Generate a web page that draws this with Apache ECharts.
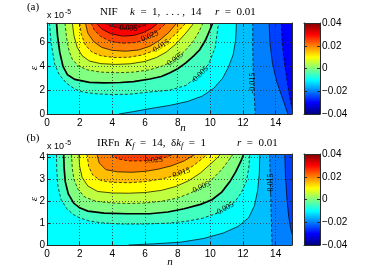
<!DOCTYPE html>
<html><head><meta charset="utf-8">
<script src="https://cdn.jsdelivr.net/npm/echarts@6/dist/echarts.min.js"></script>
<style>html,body{margin:0;padding:0;background:#fff}#c{width:368px;height:276px}</style>
</head><body><div id="c"></div>
<script>
// ---------------- data (n, eps in units of 1e-5) ----------------
const N_MAX = 15;
const EPS_MAX_A = 7.65;
const EPS_MAX_B = 4.165;
const xTickStep = 2;
const yTickStepA = 2;
const yTickStepB = 1;
const cbRange = [-0.04, 0.04];
const cbTickStep = 0.02;

// Panel (a) contour lines, level -> points [n, eps]
const contA_m025 = [[14.35,7.65],[14.4,6.0],[14.55,4.2],[14.72,2.6],[14.88,1.3],[15,0.5]];
const contA_m020 = [[13.6,7.65],[13.65,6.0],[13.8,4.3],[14.05,2.8],[14.4,1.4],[14.75,0]];
const contA_m015 = [[12.6,7.65],[12.6,5.5],[12.63,3.5],[12.68,1.8],[12.75,0]];
const contA_m010 = [[11.6,7.65],[11.55,6.2],[11.4,5.0],[11.1,3.9],[10.75,3.0],[10.2,2.15],[9.5,1.5],[8.6,1.05],[7.5,0.72],[6.3,0.45],[5.3,0.2],[4.4,0]];
const contA_m005 = [[0.15,7.65],[0.25,6.0],[0.47,4.2],[0.75,3.3],[1.19,2.6],[1.7,2.1],[2.2,1.84],[3.0,1.7],[4.0,1.64],[5.0,1.66],[6.3,1.85],[7.5,2.0],[8.5,2.4],[9.35,3.3],[9.9,4.2],[10.3,5.6],[10.5,7.65]];
const contA_000 = [[0.58,7.65],[0.65,6.5],[0.78,5.2],[0.98,4.0],[1.25,3.3],[1.7,2.91],[2.6,2.66],[3.5,2.62],[4.5,2.65],[5.3,2.72],[6.3,2.94],[7.0,3.15],[7.5,3.45],[8.0,3.8],[8.5,4.3],[9.0,4.9],[9.35,5.4],[9.7,6.2],[9.95,7.0],[10.15,7.65]];
const contA_p005 = [[1.1,7.65],[1.2,6.4],[1.35,5.3],[1.55,4.6],[1.9,4.05],[2.5,3.7],[3.3,3.52],[4.3,3.47],[5.3,3.52],[6.3,3.72],[7.0,4.0],[7.5,4.3],[7.9,4.65],[8.4,5.25],[8.9,6.0],[9.3,6.9],[9.55,7.65]];
const contA_p010 = [[1.55,7.65],[1.65,6.6],[1.85,5.6],[2.15,4.9],[2.6,4.45],[3.3,4.23],[4.2,4.17],[5.1,4.22],[6.0,4.42],[6.7,4.75],[7.3,5.2],[7.9,5.9],[8.5,6.8],[9.0,7.65]];
const contA_p015 = [[2.0,7.65],[2.1,6.7],[2.35,5.8],[2.75,5.2],[3.3,4.9],[4.1,4.75],[5.0,4.77],[5.8,4.95],[6.5,5.3],[7.0,5.7],[7.5,6.25],[8.0,6.9],[8.5,7.65]];
const contA_p020 = [[2.35,7.65],[2.5,6.8],[2.85,6.1],[3.35,5.6],[4.0,5.35],[4.8,5.28],[5.6,5.38],[6.3,5.7],[6.9,6.2],[7.45,6.85],[7.95,7.65]];
const contA_p025 = [[2.7,7.65],[2.9,7.05],[3.3,6.5],[3.9,6.1],[4.6,5.95],[5.4,6.0],[6.0,6.25],[6.5,6.7],[6.95,7.2],[7.3,7.65]];
const contA_p030 = [[3.0,7.65],[3.35,7.15],[3.9,6.75],[4.6,6.55],[5.3,6.6],[5.9,6.85],[6.4,7.2],[6.8,7.65]];
const contA_p035 = [[3.5,7.65],[3.95,7.35],[4.6,7.18],[5.3,7.2],[5.85,7.38],[6.3,7.65]];

// Panel (b) contour lines
const contB_m020 = [[14.56,4.165],[14.6,3.2],[14.68,2.2],[14.8,1.3],[14.92,0.75],[15,0.5]];
const contB_m015 = [[13.64,4.165],[13.66,3.2],[13.7,2.2],[13.74,1.1],[13.78,0]];
const contB_m010 = [[13.03,4.165],[13.0,3.3],[12.9,2.5],[12.7,1.8],[12.35,1.25],[11.7,0.85],[10.8,0.55],[9.6,0.3],[8.2,0.13],[6.5,0.05],[5.0,0]];
const contB_m005 = [[0.58,4.165],[0.6,3.4],[0.67,2.7],[0.85,2.1],[1.19,1.68],[1.6,1.4],[2.0,1.24],[2.6,1.1],[3.3,1.02],[4.5,0.96],[6.0,0.96],[7.4,1.0],[8.5,1.08],[9.5,1.22],[10.3,1.42],[10.9,1.66],[11.5,1.98],[11.9,2.4],[12.2,2.9],[12.35,3.5],[12.42,4.165]];
const contB_000 = [[1.02,4.165],[1.05,3.5],[1.12,2.9],[1.3,2.35],[1.63,1.92],[2.0,1.7],[2.5,1.55],[3.5,1.46],[4.9,1.43],[6.3,1.43],[7.4,1.51],[8.4,1.66],[9.4,1.86],[10.1,2.07],[10.7,2.42],[11.2,2.9],[11.55,3.35],[11.85,3.8],[12.05,4.165]];
const contB_p005 = [[1.5,4.165],[1.55,3.5],[1.65,3.0],[1.9,2.55],[2.3,2.2],[3.0,2.0],[4.0,1.92],[5.0,1.9],[6.0,1.92],[7.0,2.0],[8.0,2.15],[8.8,2.38],[9.45,2.65],[10.1,3.0],[10.7,3.45],[11.1,3.85],[11.4,4.165]];
const contB_p010 = [[1.95,4.165],[2.0,3.6],[2.15,3.1],[2.5,2.7],[3.1,2.45],[4.0,2.38],[5.0,2.37],[6.0,2.4],[7.0,2.5],[7.9,2.68],[8.7,2.95],[9.4,3.3],[10.0,3.7],[10.3,3.9],[10.65,4.165]];
const contB_p015 = [[2.45,4.165],[2.55,3.6],[2.8,3.2],[3.3,2.95],[4.0,2.87],[5.0,2.85],[6.0,2.9],[7.0,3.02],[7.7,3.15],[8.23,3.3],[8.9,3.6],[9.5,3.95],[9.85,4.165]];
const contB_p020 = [[3.05,4.165],[3.2,3.75],[3.6,3.45],[4.3,3.35],[5.2,3.33],[6.0,3.37],[6.8,3.47],[7.6,3.62],[8.4,3.85],[9.1,4.165]];
const contB_p025 = [[3.9,4.165],[4.3,3.95],[5.0,3.85],[5.8,3.85],[6.54,3.89],[7.2,4.0],[7.8,4.165]];

// contour label texts and positions [text, n, eps]
const labelsA = [['0.035',5.0,7.22],['0.025',6.3,6.55],['0.015',7.0,5.72],['0.005',7.85,4.62],['-0.005',9.35,3.3],['-0.015',12.62,2.6]];
const labelsB = [['0.025',6.54,3.88],['0.015',8.23,3.3],['0.005',9.45,2.65],['-0.005',10.85,1.65],['-0.015',13.7,2.8]];
const labelRotA = [-3, 22, 32, 36, 45, 90];
const labelRotB = [4, 18, 24, 28, 90];

// ---------------- helpers ----------------
function jet(v){
  const x = (v - cbRange[0]) / (cbRange[1] - cbRange[0]);
  const f = t => Math.round(255 * Math.max(0, Math.min(1, 1.5 - Math.abs(4*x - t))));
  return 'rgb(' + f(3) + ',' + f(2) + ',' + f(1) + ')';
}
const STEP = 0.005;
function boxPts(top){ return [[0,0],[N_MAX,0],[N_MAX,top],[0,top]]; }
function belowRegion(pts, top){
  const r = pts.slice(); const last = pts[pts.length-1];
  if (last[1] <= 0) r.push([N_MAX, 0]);
  r.push([N_MAX, top]);
  return r;
}
function buildPanel(lines, top){
  const fills = [{pts: boxPts(top), color: jet(-0.01)}];
  lines.filter(l => l.level <= -0.01).sort((a,b)=>b.level-a.level)
    .forEach(l => fills.push({pts: belowRegion(l.pts, top), color: jet(l.level - STEP)}));
  lines.filter(l => l.level >= -0.005).sort((a,b)=>a.level-b.level)
    .forEach(l => fills.push({pts: l.pts, color: jet(l.level)}));
  return fills;
}
const linesA = [
  {level:-0.025, pts:contA_m025},{level:-0.02, pts:contA_m020},{level:-0.015, pts:contA_m015},
  {level:-0.01, pts:contA_m010},{level:-0.005, pts:contA_m005},{level:0, pts:contA_000},
  {level:0.005, pts:contA_p005},{level:0.01, pts:contA_p010},{level:0.015, pts:contA_p015},
  {level:0.02, pts:contA_p020},{level:0.025, pts:contA_p025},{level:0.03, pts:contA_p030},{level:0.035, pts:contA_p035}
];
const linesB = [
  {level:-0.02, pts:contB_m020},{level:-0.015, pts:contB_m015},{level:-0.01, pts:contB_m010},
  {level:-0.005, pts:contB_m005},{level:0, pts:contB_000},{level:0.005, pts:contB_p005},
  {level:0.01, pts:contB_p010},{level:0.015, pts:contB_p015},{level:0.02, pts:contB_p020},{level:0.025, pts:contB_p025}
];
const fillsA = buildPanel(linesA, EPS_MAX_A);
const fillsB = buildPanel(linesB, EPS_MAX_B);

function lineStyleFor(level){
  const k = Math.round(Math.abs(level)/STEP);
  if (k === 0) return {stroke:'#000', lineWidth:1.7, fill:null};
  if (k % 2 === 1) return {stroke:'#000', lineWidth:0.7, lineDash:[3,2], fill:null};
  return {stroke:'#000', lineWidth:0.7, fill:null};
}

const TICK_FONT = 'Liberation Sans';
const SERIF = 'Liberation Serif';
const AX = '#2a2a2a';

function mainAxes(gi, top, yStep){
  const common = {min:0, max:N_MAX, interval:xTickStep, gridIndex:gi, z:10};
  return {
    x: [
      Object.assign({type:'value', position:'bottom',
        axisLine:{show:true, onZero:false, lineStyle:{color:AX, width:1}},
        axisTick:{show:true, inside:true, length:3, lineStyle:{color:AX}},
        axisLabel:{show:true, color:'#000', fontFamily:TICK_FONT, fontSize:10, margin:4, showMaxLabel:false},
        splitLine:{show:true, lineStyle:{color:'#333', width:0.8, type:[1,2]}}}, common),
      Object.assign({type:'value', position:'top',
        axisLine:{show:true, onZero:false, lineStyle:{color:AX, width:1}},
        axisTick:{show:true, inside:true, length:3, lineStyle:{color:AX}},
        axisLabel:{show:false}, splitLine:{show:false}}, common)
    ],
    y: [
      {type:'value', gridIndex:gi, min:0, max:top, interval:yStep, position:'left', z:10,
        axisLine:{show:true, onZero:false, lineStyle:{color:AX, width:1}},
        axisTick:{show:true, inside:true, length:3, lineStyle:{color:AX}},
        axisLabel:{show:true, color:'#000', fontFamily:TICK_FONT, fontSize:10, margin:2, showMaxLabel:false},
        splitLine:{show:true, lineStyle:{color:'#333', width:0.8, type:[1,2]}}},
      {type:'value', gridIndex:gi, min:0, max:top, interval:yStep, position:'right', z:10,
        axisLine:{show:true, onZero:false, lineStyle:{color:AX, width:1}},
        axisTick:{show:true, inside:true, length:3, lineStyle:{color:AX}},
        axisLabel:{show:false}, splitLine:{show:false}}
    ]
  };
}
function cbAxes(gi){
  const xa = pos => ({type:'value', gridIndex:gi, min:0, max:1, position:pos, z:10,
    axisLine:{show:true, onZero:false, lineStyle:{color:AX, width:1}},
    axisTick:{show:false}, axisLabel:{show:false}, splitLine:{show:false}});
  const ya = (pos, lab) => ({type:'value', gridIndex:gi, min:cbRange[0], max:cbRange[1], interval:cbTickStep, position:pos, z:10,
    axisLine:{show:true, onZero:false, lineStyle:{color:AX, width:1}},
    axisTick:{show:true, inside:true, length:3, lineStyle:{color:AX}},
    axisLabel:{show:lab, color:'#000', fontFamily:TICK_FONT, fontSize:10, margin:2,
      formatter: v => Math.abs(v) < 1e-9 ? '0' : (v < 0 ? '\u2212' : '') + Math.abs(v).toFixed(2)},
    splitLine:{show:false}});
  return {x:[xa('bottom'), xa('top')], y:[ya('right', true), ya('left', false)]};
}

const A = mainAxes(0, EPS_MAX_A, yTickStepA);
const B = mainAxes(1, EPS_MAX_B, yTickStepB);
const CA = cbAxes(2), CB = cbAxes(3);
const xAxis = [...A.x, ...B.x, ...CA.x, ...CB.x];
const yAxis = [...A.y, ...B.y, ...CA.y, ...CB.y];

function fillSeries(fills, xi, yi){
  return {type:'custom', coordinateSystem:'cartesian2d', xAxisIndex:xi, yAxisIndex:yi, clip:true, silent:true, z:2,
    data: fills.map((_, i) => [i]),
    renderItem: (params, api) => {
      const f = fills[params.dataIndex];
      return {type:'polygon', shape:{points: f.pts.map(p => api.coord(p))}, style:{fill:f.color, stroke:f.color, lineWidth:0.3}};
    }};
}
function lineSeries(lines, xi, yi){
  return {type:'custom', coordinateSystem:'cartesian2d', xAxisIndex:xi, yAxisIndex:yi, clip:true, silent:true, z:3,
    data: lines.map((_, i) => [i]),
    renderItem: (params, api) => {
      const l = lines[params.dataIndex];
      return {type:'polyline', shape:{points: l.pts.map(p => api.coord(p))}, style:lineStyleFor(l.level)};
    }};
}
function labelSeries(labels, rots, xi, yi){
  return {type:'custom', coordinateSystem:'cartesian2d', xAxisIndex:xi, yAxisIndex:yi, clip:false, silent:true, z:4,
    data: labels.map(l => [l[1], l[2]]),
    renderItem: (params, api) => {
      const l = labels[params.dataIndex];
      const p = api.coord([api.value(0), api.value(1)]);
      return {type:'text', x:p[0], y:p[1], rotation: rots[params.dataIndex]*Math.PI/180,
        style:{text:l[0], fill:'#000', font:'8px "' + SERIF + '"', align:'center', verticalAlign:'middle',
               textAlign:'center', textVerticalAlign:'middle'}};
    }};
}
const jetStops = [1, 0.875, 0.625, 0.375, 0.125, 0].map(x => ({offset: 1 - x,
  color: jet(cbRange[0] + x*(cbRange[1]-cbRange[0]))}));
function cbSeries(xi, yi){
  return {type:'custom', coordinateSystem:'cartesian2d', xAxisIndex:xi, yAxisIndex:yi, silent:true, z:2,
    data:[[0, cbRange[0]]],
    renderItem: (params, api) => {
      const p0 = api.coord([0, cbRange[1]]), p1 = api.coord([1, cbRange[0]]);
      return {type:'rect', shape:{x:p0[0], y:p0[1], width:p1[0]-p0[0], height:p1[1]-p0[1]},
        style:{fill:{type:'linear', x:0, y:0, x2:0, y2:1, colorStops: jetStops}}};
    }};
}

const titleRich = {
  r:{fontFamily:SERIF, fontSize:11, color:'#000'},
  i:{fontFamily:SERIF, fontSize:11, fontStyle:'italic', color:'#000'},
  s:{fontFamily:SERIF, fontSize:8, fontStyle:'italic', color:'#000', verticalAlign:'bottom', padding:[6,0,0,0]}
};
function txt(x, y, text, opts){
  return Object.assign({type:'text', x:x, y:y, silent:true, z:20,
    style:Object.assign({text:text, fill:'#000', align:'center', verticalAlign:'middle'}, opts||{})});
}
const graphic = [
  txt(33, 7, '(a)', {font:'11px "' + SERIF + '"'}),
  txt(33, 138, '(b)', {font:'11px "' + SERIF + '"'}),
  txt(100, 12, '{r|NIF}', {rich:titleRich, align:'left'}),
  txt(130, 12, '{i|k}{r|  =  1,  . . . ,  14}', {rich:titleRich, align:'left'}),
  txt(215, 12, '{i|r}{r|  =  0.01}', {rich:titleRich, align:'left'}),
  txt(97, 143, '{r|IRFn}', {rich:titleRich, align:'left'}),
  txt(125, 143, '{i|K}{s|f}{r|  =  14,  δ}{i|k}{s|f}{r|  =  1}', {rich:titleRich, align:'left'}),
  txt(237, 143, '{i|r}{r|  =  0.01}', {rich:titleRich, align:'left'}),
  txt(47, 16, 'x 10', {font:'9px "' + TICK_FONT + '"', align:'left'}),
  txt(65, 12, '-5', {font:'7px "' + TICK_FONT + '"', align:'left'}),
  txt(47, 147, 'x 10', {font:'9px "' + TICK_FONT + '"', align:'left'}),
  txt(65, 143, '-5', {font:'7px "' + TICK_FONT + '"', align:'left'}),
  Object.assign(txt(34, 68, 'ε', {font:'italic 11px "' + SERIF + '"'}), {rotation:Math.PI/2}),
  Object.assign(txt(34, 199, 'ε', {font:'italic 11px "' + SERIF + '"'}), {rotation:Math.PI/2}),
  txt(183, 128, 'n', {font:'italic 11px "' + SERIF + '"'}),
  txt(170, 262, 'n', {font:'italic 11px "' + SERIF + '"'})
];

const chart = echarts.init(document.getElementById('c'), null, {renderer:'canvas'});
chart.setOption({
  animation:false,
  backgroundColor:'#fff',
  grid:[
    {left:47, top:23, width:245, height:91, outerBoundsMode:'none'},
    {left:47, top:154, width:245, height:91, outerBoundsMode:'none'},
    {left:304, top:23, width:16, height:91, outerBoundsMode:'none'},
    {left:304, top:154, width:16, height:91, outerBoundsMode:'none'}
  ],
  xAxis: xAxis,
  yAxis: yAxis,
  series:[
    fillSeries(fillsA, 0, 0), lineSeries(linesA, 0, 0), labelSeries(labelsA, labelRotA, 0, 0),
    fillSeries(fillsB, 2, 2), lineSeries(linesB, 2, 2), labelSeries(labelsB, labelRotB, 2, 2),
    cbSeries(4, 4), cbSeries(6, 6)
  ],
  graphic: graphic
});
</script></body></html>
